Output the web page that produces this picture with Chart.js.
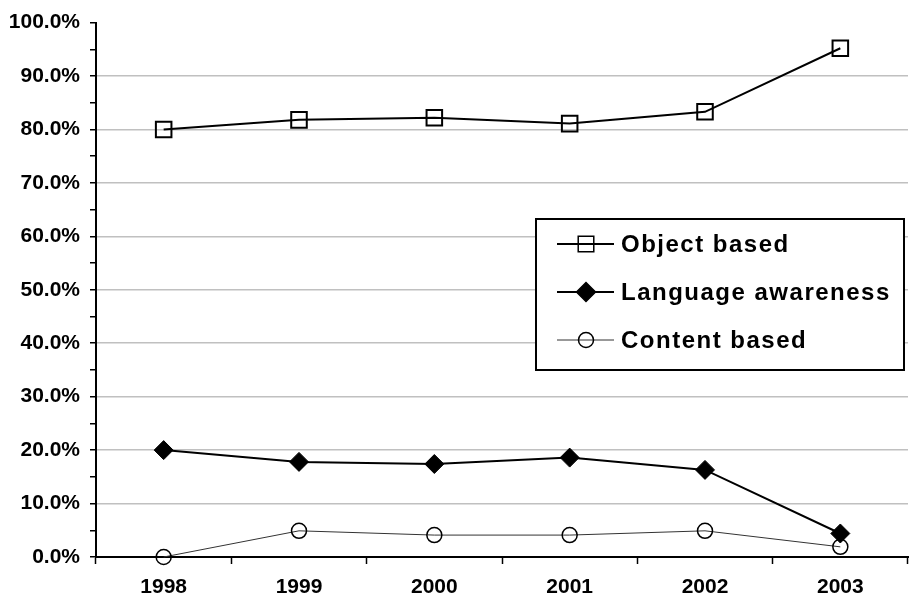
<!DOCTYPE html>
<html>
<head>
<meta charset="utf-8">
<title>Approaches by year</title>
<script src="https://cdn.jsdelivr.net/npm/chart.js@4/dist/chart.umd.min.js"></script>
<style>
  html, body { margin: 0; padding: 0; background: #fff; overflow: hidden; width: 909px; height: 603px; }
  #wrap { position: absolute; left: 0; top: 0; }
</style>
</head>
<body>
<div id="wrap"><canvas id="chart" width="921" height="603"></canvas></div>
<script>
let years = ['1998', '1999', '2000', '2001', '2002', '2003'];
let objectBased = [80.0, 81.8, 82.2, 81.1, 83.3, 95.2];
let languageAwareness = [20.0, 17.8, 17.4, 18.6, 16.3, 4.4];
let contentBased = [0.0, 4.9, 4.1, 4.1, 4.9, 1.9];
let seriesNames = ['Object based', 'Language awareness', 'Content based'];

let tickFont = { family: '"Liberation Sans", Arial, sans-serif', size: 21, weight: 'bold' };

// legend drawn as a framed box inside the plot
let boxLegend = {
    id: 'boxLegend',
    afterDraw(chart) {
        let ctx = chart.ctx;
        ctx.save();
        ctx.fillStyle = '#fff';
        ctx.fillRect(536, 219, 368, 151);
        ctx.strokeStyle = '#000';
        ctx.lineWidth = 2;
        ctx.strokeRect(536, 219, 368, 151);
        chart.data.datasets.forEach(function (ds, i) {
            let y = 244 + i * 48;
            ctx.beginPath();
            ctx.strokeStyle = ds.borderColor;
            ctx.lineWidth = ds.borderWidth;
            ctx.moveTo(557, y);
            ctx.lineTo(614, y);
            ctx.stroke();
            ctx.fillStyle = ds.pointBackgroundColor;
            ctx.strokeStyle = ds.pointBorderColor;
            ctx.lineWidth = 1.5;
            Chart.helpers.drawPoint(ctx, { pointStyle: ds.pointStyle, radius: ds.pointRadius, rotation: 0, borderWidth: 1.5 }, 586, y);
            ctx.fillStyle = '#000';
            ctx.font = 'bold 24px "Liberation Sans", Arial, sans-serif';
            ctx.letterSpacing = '1.5px';
            ctx.textBaseline = 'middle';
            ctx.textAlign = 'left';
            ctx.fillText(ds.label, 621, y + 1);
        });
        ctx.restore();
    }
};

let ctx = document.getElementById('chart');

let myLineChart = new Chart(ctx, {
    type: 'line',
    data: {
        labels: years,
        datasets: [{
            label: seriesNames[0],
            data: objectBased,
            borderColor: '#000',
            borderWidth: 2,
            pointStyle: 'rect',
            pointRadius: 11,
            pointBackgroundColor: 'transparent',
            pointBorderColor: '#000',
            pointBorderWidth: 2,
            order: 2
        }, {
            label: seriesNames[1],
            data: languageAwareness,
            borderColor: '#000',
            borderWidth: 2,
            pointStyle: 'rectRot',
            pointRadius: 9.5,
            pointBackgroundColor: '#000',
            pointBorderColor: '#000',
            pointBorderWidth: 1,
            order: 1
        }, {
            label: seriesNames[2],
            data: contentBased,
            borderColor: '#333',
            borderWidth: 1,
            pointStyle: 'circle',
            pointRadius: 7.5,
            pointBackgroundColor: 'transparent',
            pointBorderColor: '#000',
            pointBorderWidth: 1.5,
            order: 0
        }]
    },
    options: {
        responsive: false,
        animation: false,
        tension: 0,
        clip: false,
        layout: { padding: { top: 19, right: 1, left: 0, bottom: 0 } },
        plugins: {
            legend: { display: false },
            tooltip: { enabled: false }
        },
        scales: {
            x: {
                offset: true,
                border: { color: '#000', width: 2 },
                grid: { offset: true, drawOnChartArea: false, drawTicks: true, tickLength: 7, tickColor: '#000', tickWidth: 1.5 },
                ticks: { color: '#000', font: tickFont, padding: 11, maxRotation: 0 },
                afterFit: function (scale) { scale.height = 46; }
            },
            y: {
                min: 0,
                max: 100,
                border: { color: '#000', width: 2 },
                grid: {
                    color: function (c) {
                        let v = c.tick ? c.tick.value : 0;
                        return (v % 10 === 0 && v > 0 && v < 100) ? '#c0c0c0' : 'rgba(0,0,0,0)';
                    },
                    lineWidth: 1.5,
                    tickLength: 6,
                    tickColor: '#000',
                    tickWidth: 1.5
                },
                ticks: {
                    stepSize: 5,
                    autoSkip: false,
                    color: '#000',
                    font: tickFont,
                    padding: 10,
                    callback: function (v) { return v % 10 === 0 ? v.toFixed(1) + '%' : ''; }
                },
                afterFit: function (scale) { scale.width = 96; }
            }
        }
    },
    plugins: [boxLegend]
});
</script>
</body>
</html>
